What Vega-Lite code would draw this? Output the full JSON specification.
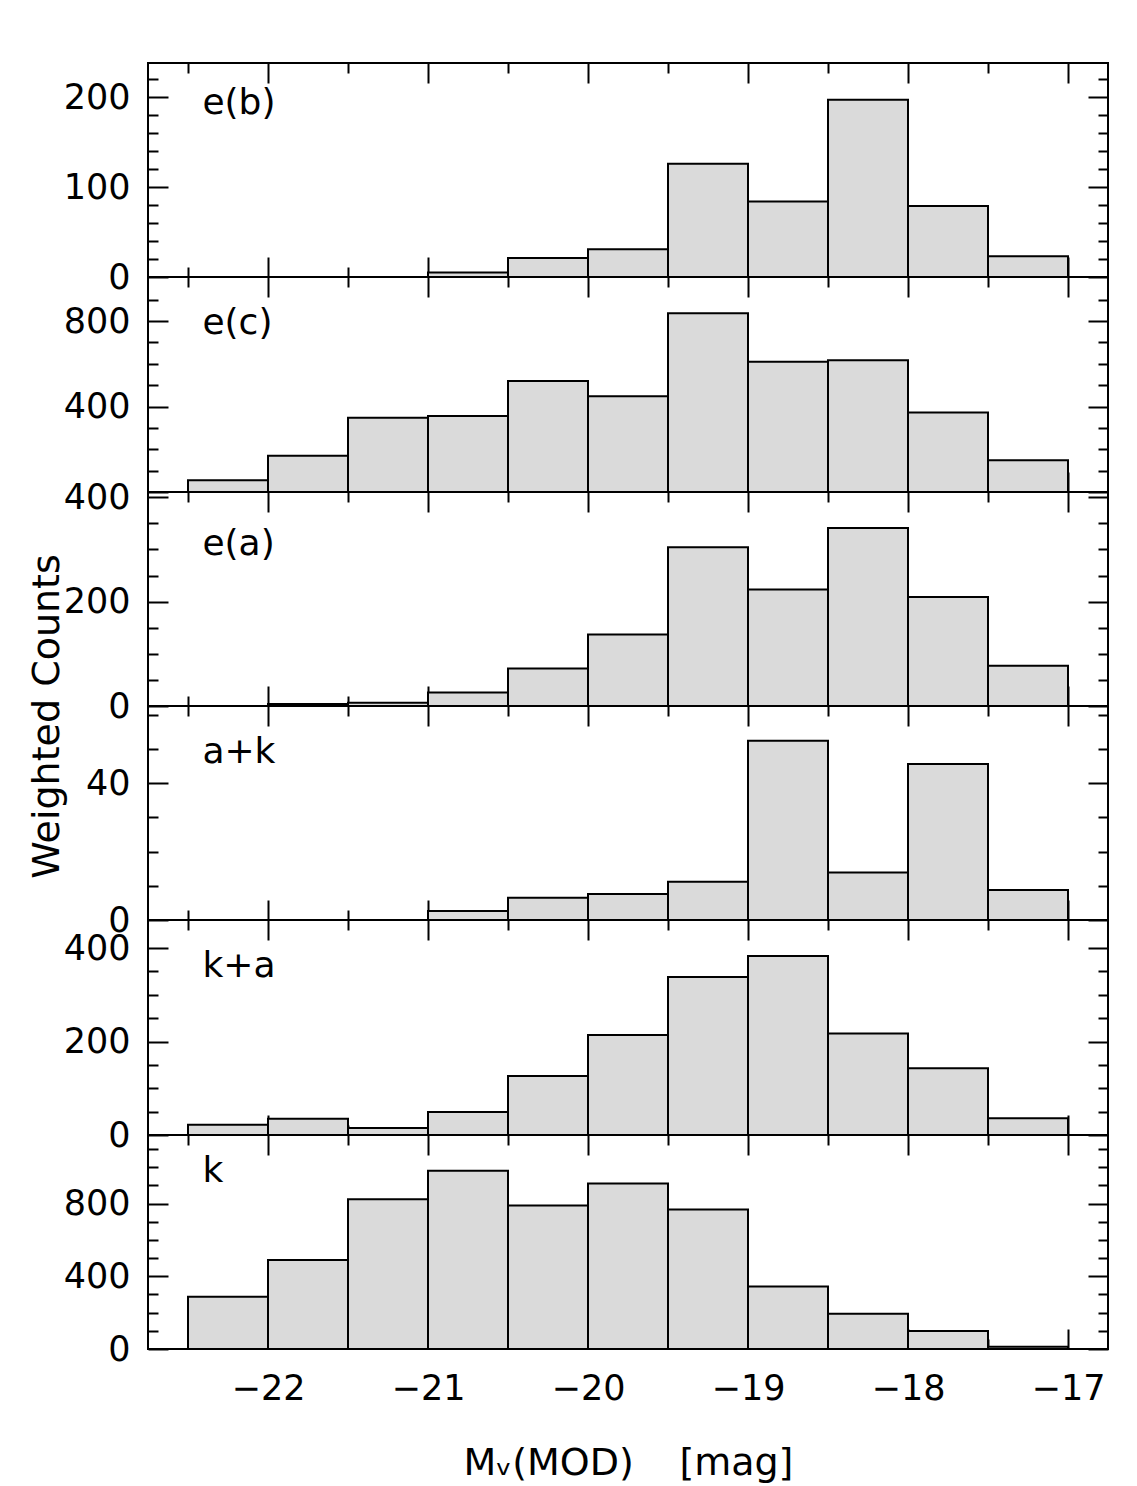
{
  "$schema": "https://vega.github.io/schema/vega-lite/v6.json",
  "background": "#ffffff",
  "padding": {"left": 26, "top": 61, "right": 20, "bottom": 0},
  "spacing": 0,
  "bounds": "flush",
  "config": {
    "font": "DejaVu Sans",
    "view": {"stroke": "#000000", "strokeWidth": 2},
    "axis": {
      "domain": false, "grid": false, "tickColor": "#000000", "tickWidth": 2,
      "labelFont": "DejaVu Sans", "labelFontSize": 35, "labelColor": "#000000",
      "labelFlush": false, "labelOverlap": false,
      "titleFont": "DejaVu Sans", "titleFontSize": 38, "titleFontWeight": "normal", "titleColor": "#000000"
    }
  },
  "datasets": {
    "eb": [
      {"lo": -21, "hi": -20.5, "n": 5}, {"lo": -20.5, "hi": -20, "n": 21}, {"lo": -20, "hi": -19.5, "n": 31},
      {"lo": -19.5, "hi": -19, "n": 126}, {"lo": -19, "hi": -18.5, "n": 84}, {"lo": -18.5, "hi": -18, "n": 197},
      {"lo": -18, "hi": -17.5, "n": 79}, {"lo": -17.5, "hi": -17, "n": 23}
    ],
    "ec": [
      {"lo": -22.5, "hi": -22, "n": 55}, {"lo": -22, "hi": -21.5, "n": 170}, {"lo": -21.5, "hi": -21, "n": 347},
      {"lo": -21, "hi": -20.5, "n": 356}, {"lo": -20.5, "hi": -20, "n": 519}, {"lo": -20, "hi": -19.5, "n": 448},
      {"lo": -19.5, "hi": -19, "n": 836}, {"lo": -19, "hi": -18.5, "n": 609}, {"lo": -18.5, "hi": -18, "n": 616},
      {"lo": -18, "hi": -17.5, "n": 372}, {"lo": -17.5, "hi": -17, "n": 149}
    ],
    "ea": [
      {"lo": -22, "hi": -21.5, "n": 4}, {"lo": -21.5, "hi": -21, "n": 6},
      {"lo": -21, "hi": -20.5, "n": 26}, {"lo": -20.5, "hi": -20, "n": 72}, {"lo": -20, "hi": -19.5, "n": 137},
      {"lo": -19.5, "hi": -19, "n": 304}, {"lo": -19, "hi": -18.5, "n": 223}, {"lo": -18.5, "hi": -18, "n": 341},
      {"lo": -18, "hi": -17.5, "n": 209}, {"lo": -17.5, "hi": -17, "n": 77}
    ],
    "ak": [
      {"lo": -21, "hi": -20.5, "n": 2.6}, {"lo": -20.5, "hi": -20, "n": 6.5}, {"lo": -20, "hi": -19.5, "n": 7.6},
      {"lo": -19.5, "hi": -19, "n": 11.2}, {"lo": -19, "hi": -18.5, "n": 52.4}, {"lo": -18.5, "hi": -18, "n": 13.9},
      {"lo": -18, "hi": -17.5, "n": 45.6}, {"lo": -17.5, "hi": -17, "n": 8.8}
    ],
    "ka": [
      {"lo": -22.5, "hi": -22, "n": 22}, {"lo": -22, "hi": -21.5, "n": 35}, {"lo": -21.5, "hi": -21, "n": 15},
      {"lo": -21, "hi": -20.5, "n": 49}, {"lo": -20.5, "hi": -20, "n": 126}, {"lo": -20, "hi": -19.5, "n": 214},
      {"lo": -19.5, "hi": -19, "n": 338}, {"lo": -19, "hi": -18.5, "n": 383}, {"lo": -18.5, "hi": -18, "n": 217},
      {"lo": -18, "hi": -17.5, "n": 143}, {"lo": -17.5, "hi": -17, "n": 36}
    ],
    "k": [
      {"lo": -22.5, "hi": -22, "n": 287}, {"lo": -22, "hi": -21.5, "n": 489}, {"lo": -21.5, "hi": -21, "n": 824},
      {"lo": -21, "hi": -20.5, "n": 981}, {"lo": -20.5, "hi": -20, "n": 789}, {"lo": -20, "hi": -19.5, "n": 910},
      {"lo": -19.5, "hi": -19, "n": 767}, {"lo": -19, "hi": -18.5, "n": 344}, {"lo": -18.5, "hi": -18, "n": 194},
      {"lo": -18, "hi": -17.5, "n": 99}, {"lo": -17.5, "hi": -17, "n": 12}
    ]
  },
  "vconcat": [
    {
      "width": 960, "height": 214,
      "data": {"name": "eb"},
      "layer": [
        {"mark": {"type": "bar", "fill": "#dadada", "stroke": "#000000", "strokeWidth": 2},
         "encoding": {
           "x": {"field": "lo", "type": "quantitative", "scale": {"domain": [-22.75, -16.75], "nice": false, "zero": false},
                 "axis": {"orient": "bottom", "values": [-22, -21, -20, -19, -18, -17], "offset": -20, "tickSize": 20, "labels": false, "title": null}},
           "x2": {"field": "hi"},
           "y": {"field": "n", "type": "quantitative", "scale": {"domain": [0, 238], "nice": false},
                 "axis": {"orient": "left", "values": [0, 100, 200], "offset": -20, "tickSize": 20, "labelPadding": 18, "title": null}},
           "y2": {"datum": 0}
         }},
        {"mark": {"type": "bar", "opacity": 0},
         "encoding": {
           "x": {"field": "lo", "type": "quantitative", "axis": {"orient": "bottom", "values": [-22.5, -21.5, -20.5, -19.5, -18.5, -17.5], "offset": -10, "tickSize": 10, "labels": false, "title": null}},
           "x2": {"field": "hi"},
           "y": {"field": "n", "type": "quantitative", "axis": {"orient": "left", "values": [20, 40, 60, 80, 120, 140, 160, 180, 220], "offset": -10, "tickSize": 10, "labels": false, "title": null}},
           "y2": {"datum": 0}
         }},
        {"mark": {"type": "bar", "opacity": 0},
         "encoding": {
           "x": {"field": "lo", "type": "quantitative", "axis": {"orient": "top", "values": [-22, -21, -20, -19, -18, -17], "offset": -20, "tickSize": 20, "labels": false, "title": null}},
           "x2": {"field": "hi"},
           "y": {"field": "n", "type": "quantitative", "axis": {"orient": "right", "values": [0, 100, 200], "offset": -20, "tickSize": 20, "labels": false, "title": null}},
           "y2": {"datum": 0}
         }},
        {"mark": {"type": "bar", "opacity": 0},
         "encoding": {
           "x": {"field": "lo", "type": "quantitative", "axis": {"orient": "top", "values": [-22.5, -21.5, -20.5, -19.5, -18.5, -17.5], "offset": -10, "tickSize": 10, "labels": false, "title": null}},
           "x2": {"field": "hi"},
           "y": {"field": "n", "type": "quantitative", "axis": {"orient": "right", "values": [20, 40, 60, 80, 120, 140, 160, 180, 220], "offset": -10, "tickSize": 10, "labels": false, "title": null}},
           "y2": {"datum": 0}
         }},
        {"data": {"values": [{"label": "e(b)"}]},
         "mark": {"type": "text", "align": "left", "baseline": "middle", "fontSize": 36, "font": "DejaVu Sans", "color": "#000000"},
         "encoding": {
           "x": {"datum": -22.41, "type": "quantitative", "axis": null},
           "y": {"datum": 193, "type": "quantitative", "axis": null},
           "text": {"field": "label"}
         }}
      ],
      "resolve": {"axis": {"x": "independent", "y": "independent"}}
    },
    {
      "width": 960, "height": 215,
      "data": {"name": "ec"},
      "layer": [
        {"mark": {"type": "bar", "fill": "#dadada", "stroke": "#000000", "strokeWidth": 2},
         "encoding": {
           "x": {"field": "lo", "type": "quantitative", "scale": {"domain": [-22.75, -16.75], "nice": false, "zero": false},
                 "axis": {"orient": "bottom", "values": [-22, -21, -20, -19, -18, -17], "offset": -20, "tickSize": 20, "labels": false, "title": null}},
           "x2": {"field": "hi"},
           "y": {"field": "n", "type": "quantitative", "scale": {"domain": [0, 1006], "nice": false},
                 "axis": {"orient": "left", "values": [0, 400, 800], "labelExpr": "datum.value === 0 ? '' : datum.label", "offset": -20, "tickSize": 20, "labelPadding": 18, "title": null}},
           "y2": {"datum": 0}
         }},
        {"mark": {"type": "bar", "opacity": 0},
         "encoding": {
           "x": {"field": "lo", "type": "quantitative", "axis": {"orient": "bottom", "values": [-22.5, -21.5, -20.5, -19.5, -18.5, -17.5], "offset": -10, "tickSize": 10, "labels": false, "title": null}},
           "x2": {"field": "hi"},
           "y": {"field": "n", "type": "quantitative", "axis": {"orient": "left", "values": [100, 200, 300, 500, 600, 700, 900], "offset": -10, "tickSize": 10, "labels": false, "title": null}},
           "y2": {"datum": 0}
         }},
        {"mark": {"type": "bar", "opacity": 0},
         "encoding": {
           "x": {"field": "lo", "type": "quantitative", "axis": {"orient": "top", "values": [-22, -21, -20, -19, -18, -17], "offset": -20, "tickSize": 20, "labels": false, "title": null}},
           "x2": {"field": "hi"},
           "y": {"field": "n", "type": "quantitative", "axis": {"orient": "right", "values": [0, 400, 800], "offset": -20, "tickSize": 20, "labels": false, "title": null}},
           "y2": {"datum": 0}
         }},
        {"mark": {"type": "bar", "opacity": 0},
         "encoding": {
           "x": {"field": "lo", "type": "quantitative", "axis": {"orient": "top", "values": [-22.5, -21.5, -20.5, -19.5, -18.5, -17.5], "offset": -10, "tickSize": 10, "labels": false, "title": null}},
           "x2": {"field": "hi"},
           "y": {"field": "n", "type": "quantitative", "axis": {"orient": "right", "values": [100, 200, 300, 500, 600, 700, 900], "offset": -10, "tickSize": 10, "labels": false, "title": null}},
           "y2": {"datum": 0}
         }},
        {"data": {"values": [{"label": "e(c)"}]},
         "mark": {"type": "text", "align": "left", "baseline": "middle", "fontSize": 36, "font": "DejaVu Sans", "color": "#000000"},
         "encoding": {
           "x": {"datum": -22.41, "type": "quantitative", "axis": null},
           "y": {"datum": 790, "type": "quantitative", "axis": null},
           "text": {"field": "label"}
         }}
      ],
      "resolve": {"axis": {"x": "independent", "y": "independent"}}
    },
    {
      "width": 960, "height": 214,
      "data": {"name": "ea"},
      "layer": [
        {"mark": {"type": "bar", "fill": "#dadada", "stroke": "#000000", "strokeWidth": 2},
         "encoding": {
           "x": {"field": "lo", "type": "quantitative", "scale": {"domain": [-22.75, -16.75], "nice": false, "zero": false},
                 "axis": {"orient": "bottom", "values": [-22, -21, -20, -19, -18, -17], "offset": -20, "tickSize": 20, "labels": false, "title": null}},
           "x2": {"field": "hi"},
           "y": {"field": "n", "type": "quantitative", "scale": {"domain": [0, 410], "nice": false},
                 "axis": {"orient": "left", "values": [0, 200, 400], "offset": -20, "tickSize": 20, "labelPadding": 18,
                          "title": "Weighted Counts", "titleX": -121, "titleY": 224, "titleAngle": -90, "titleAlign": "center", "titleBaseline": "middle"}},
           "y2": {"datum": 0}
         }},
        {"mark": {"type": "bar", "opacity": 0},
         "encoding": {
           "x": {"field": "lo", "type": "quantitative", "axis": {"orient": "bottom", "values": [-22.5, -21.5, -20.5, -19.5, -18.5, -17.5], "offset": -10, "tickSize": 10, "labels": false, "title": null}},
           "x2": {"field": "hi"},
           "y": {"field": "n", "type": "quantitative", "axis": {"orient": "left", "values": [50, 100, 150, 250, 300, 350], "offset": -10, "tickSize": 10, "labels": false, "title": null}},
           "y2": {"datum": 0}
         }},
        {"mark": {"type": "bar", "opacity": 0},
         "encoding": {
           "x": {"field": "lo", "type": "quantitative", "axis": {"orient": "top", "values": [-22, -21, -20, -19, -18, -17], "offset": -20, "tickSize": 20, "labels": false, "title": null}},
           "x2": {"field": "hi"},
           "y": {"field": "n", "type": "quantitative", "axis": {"orient": "right", "values": [0, 200, 400], "offset": -20, "tickSize": 20, "labels": false, "title": null}},
           "y2": {"datum": 0}
         }},
        {"mark": {"type": "bar", "opacity": 0},
         "encoding": {
           "x": {"field": "lo", "type": "quantitative", "axis": {"orient": "top", "values": [-22.5, -21.5, -20.5, -19.5, -18.5, -17.5], "offset": -10, "tickSize": 10, "labels": false, "title": null}},
           "x2": {"field": "hi"},
           "y": {"field": "n", "type": "quantitative", "axis": {"orient": "right", "values": [50, 100, 150, 250, 300, 350], "offset": -10, "tickSize": 10, "labels": false, "title": null}},
           "y2": {"datum": 0}
         }},
        {"data": {"values": [{"label": "e(a)"}]},
         "mark": {"type": "text", "align": "left", "baseline": "middle", "fontSize": 36, "font": "DejaVu Sans", "color": "#000000"},
         "encoding": {
           "x": {"datum": -22.41, "type": "quantitative", "axis": null},
           "y": {"datum": 310, "type": "quantitative", "axis": null},
           "text": {"field": "label"}
         }}
      ],
      "resolve": {"axis": {"x": "independent", "y": "independent"}}
    },
    {
      "width": 960, "height": 214,
      "data": {"name": "ak"},
      "layer": [
        {"mark": {"type": "bar", "fill": "#dadada", "stroke": "#000000", "strokeWidth": 2},
         "encoding": {
           "x": {"field": "lo", "type": "quantitative", "scale": {"domain": [-22.75, -16.75], "nice": false, "zero": false},
                 "axis": {"orient": "bottom", "values": [-22, -21, -20, -19, -18, -17], "offset": -20, "tickSize": 20, "labels": false, "title": null}},
           "x2": {"field": "hi"},
           "y": {"field": "n", "type": "quantitative", "scale": {"domain": [0, 62.6], "nice": false},
                 "axis": {"orient": "left", "values": [0, 40], "offset": -20, "tickSize": 20, "labelPadding": 18, "title": null}},
           "y2": {"datum": 0}
         }},
        {"mark": {"type": "bar", "opacity": 0},
         "encoding": {
           "x": {"field": "lo", "type": "quantitative", "axis": {"orient": "bottom", "values": [-22.5, -21.5, -20.5, -19.5, -18.5, -17.5], "offset": -10, "tickSize": 10, "labels": false, "title": null}},
           "x2": {"field": "hi"},
           "y": {"field": "n", "type": "quantitative", "axis": {"orient": "left", "values": [10, 20, 30, 50, 60], "offset": -10, "tickSize": 10, "labels": false, "title": null}},
           "y2": {"datum": 0}
         }},
        {"mark": {"type": "bar", "opacity": 0},
         "encoding": {
           "x": {"field": "lo", "type": "quantitative", "axis": {"orient": "top", "values": [-22, -21, -20, -19, -18, -17], "offset": -20, "tickSize": 20, "labels": false, "title": null}},
           "x2": {"field": "hi"},
           "y": {"field": "n", "type": "quantitative", "axis": {"orient": "right", "values": [0, 40], "offset": -20, "tickSize": 20, "labels": false, "title": null}},
           "y2": {"datum": 0}
         }},
        {"mark": {"type": "bar", "opacity": 0},
         "encoding": {
           "x": {"field": "lo", "type": "quantitative", "axis": {"orient": "top", "values": [-22.5, -21.5, -20.5, -19.5, -18.5, -17.5], "offset": -10, "tickSize": 10, "labels": false, "title": null}},
           "x2": {"field": "hi"},
           "y": {"field": "n", "type": "quantitative", "axis": {"orient": "right", "values": [10, 20, 30, 50, 60], "offset": -10, "tickSize": 10, "labels": false, "title": null}},
           "y2": {"datum": 0}
         }},
        {"data": {"values": [{"label": "a+k"}]},
         "mark": {"type": "text", "align": "left", "baseline": "middle", "fontSize": 36, "font": "DejaVu Sans", "color": "#000000"},
         "encoding": {
           "x": {"datum": -22.41, "type": "quantitative", "axis": null},
           "y": {"datum": 49, "type": "quantitative", "axis": null},
           "text": {"field": "label"}
         }}
      ],
      "resolve": {"axis": {"x": "independent", "y": "independent"}}
    },
    {
      "width": 960, "height": 215,
      "data": {"name": "ka"},
      "layer": [
        {"mark": {"type": "bar", "fill": "#dadada", "stroke": "#000000", "strokeWidth": 2},
         "encoding": {
           "x": {"field": "lo", "type": "quantitative", "scale": {"domain": [-22.75, -16.75], "nice": false, "zero": false},
                 "axis": {"orient": "bottom", "values": [-22, -21, -20, -19, -18, -17], "offset": -20, "tickSize": 20, "labels": false, "title": null}},
           "x2": {"field": "hi"},
           "y": {"field": "n", "type": "quantitative", "scale": {"domain": [0, 460], "nice": false},
                 "axis": {"orient": "left", "values": [0, 200, 400], "offset": -20, "tickSize": 20, "labelPadding": 18, "title": null}},
           "y2": {"datum": 0}
         }},
        {"mark": {"type": "bar", "opacity": 0},
         "encoding": {
           "x": {"field": "lo", "type": "quantitative", "axis": {"orient": "bottom", "values": [-22.5, -21.5, -20.5, -19.5, -18.5, -17.5], "offset": -10, "tickSize": 10, "labels": false, "title": null}},
           "x2": {"field": "hi"},
           "y": {"field": "n", "type": "quantitative", "axis": {"orient": "left", "values": [50, 100, 150, 250, 300, 350], "offset": -10, "tickSize": 10, "labels": false, "title": null}},
           "y2": {"datum": 0}
         }},
        {"mark": {"type": "bar", "opacity": 0},
         "encoding": {
           "x": {"field": "lo", "type": "quantitative", "axis": {"orient": "top", "values": [-22, -21, -20, -19, -18, -17], "offset": -20, "tickSize": 20, "labels": false, "title": null}},
           "x2": {"field": "hi"},
           "y": {"field": "n", "type": "quantitative", "axis": {"orient": "right", "values": [0, 200, 400], "offset": -20, "tickSize": 20, "labels": false, "title": null}},
           "y2": {"datum": 0}
         }},
        {"mark": {"type": "bar", "opacity": 0},
         "encoding": {
           "x": {"field": "lo", "type": "quantitative", "axis": {"orient": "top", "values": [-22.5, -21.5, -20.5, -19.5, -18.5, -17.5], "offset": -10, "tickSize": 10, "labels": false, "title": null}},
           "x2": {"field": "hi"},
           "y": {"field": "n", "type": "quantitative", "axis": {"orient": "right", "values": [50, 100, 150, 250, 300, 350], "offset": -10, "tickSize": 10, "labels": false, "title": null}},
           "y2": {"datum": 0}
         }},
        {"data": {"values": [{"label": "k+a"}]},
         "mark": {"type": "text", "align": "left", "baseline": "middle", "fontSize": 36, "font": "DejaVu Sans", "color": "#000000"},
         "encoding": {
           "x": {"datum": -22.41, "type": "quantitative", "axis": null},
           "y": {"datum": 362, "type": "quantitative", "axis": null},
           "text": {"field": "label"}
         }}
      ],
      "resolve": {"axis": {"x": "independent", "y": "independent"}}
    },
    {
      "width": 960, "height": 214,
      "data": {"name": "k"},
      "layer": [
        {"mark": {"type": "bar", "fill": "#dadada", "stroke": "#000000", "strokeWidth": 2},
         "encoding": {
           "x": {"field": "lo", "type": "quantitative", "scale": {"domain": [-22.75, -16.75], "nice": false, "zero": false},
                 "axis": {"orient": "bottom", "values": [-22, -21, -20, -19, -18, -17], "offset": -20, "tickSize": 20, "labels": true, "labelPadding": 22,
                          "title": "M\u1d65(MOD)\u2003\u2009[mag]", "titlePadding": 38}},
           "x2": {"field": "hi"},
           "y": {"field": "n", "type": "quantitative", "scale": {"domain": [0, 1177], "nice": false},
                 "axis": {"orient": "left", "values": [0, 400, 800], "offset": -20, "tickSize": 20, "labelPadding": 18, "title": null}},
           "y2": {"datum": 0}
         }},
        {"mark": {"type": "bar", "opacity": 0},
         "encoding": {
           "x": {"field": "lo", "type": "quantitative", "axis": {"orient": "bottom", "values": [-22.5, -21.5, -20.5, -19.5, -18.5, -17.5], "offset": -10, "tickSize": 10, "labels": false, "title": null}},
           "x2": {"field": "hi"},
           "y": {"field": "n", "type": "quantitative", "axis": {"orient": "left", "values": [100, 200, 300, 500, 600, 700, 900, 1000, 1100], "offset": -10, "tickSize": 10, "labels": false, "title": null}},
           "y2": {"datum": 0}
         }},
        {"mark": {"type": "bar", "opacity": 0},
         "encoding": {
           "x": {"field": "lo", "type": "quantitative", "axis": {"orient": "top", "values": [-22, -21, -20, -19, -18, -17], "offset": -20, "tickSize": 20, "labels": false, "title": null}},
           "x2": {"field": "hi"},
           "y": {"field": "n", "type": "quantitative", "axis": {"orient": "right", "values": [0, 400, 800], "offset": -20, "tickSize": 20, "labels": false, "title": null}},
           "y2": {"datum": 0}
         }},
        {"mark": {"type": "bar", "opacity": 0},
         "encoding": {
           "x": {"field": "lo", "type": "quantitative", "axis": {"orient": "top", "values": [-22.5, -21.5, -20.5, -19.5, -18.5, -17.5], "offset": -10, "tickSize": 10, "labels": false, "title": null}},
           "x2": {"field": "hi"},
           "y": {"field": "n", "type": "quantitative", "axis": {"orient": "right", "values": [100, 200, 300, 500, 600, 700, 900, 1000, 1100], "offset": -10, "tickSize": 10, "labels": false, "title": null}},
           "y2": {"datum": 0}
         }},
        {"data": {"values": [{"label": "k"}]},
         "mark": {"type": "text", "align": "left", "baseline": "middle", "fontSize": 36, "font": "DejaVu Sans", "color": "#000000"},
         "encoding": {
           "x": {"datum": -22.41, "type": "quantitative", "axis": null},
           "y": {"datum": 980, "type": "quantitative", "axis": null},
           "text": {"field": "label"}
         }}
      ],
      "resolve": {"axis": {"x": "independent", "y": "independent"}}
    }
  ]
}
